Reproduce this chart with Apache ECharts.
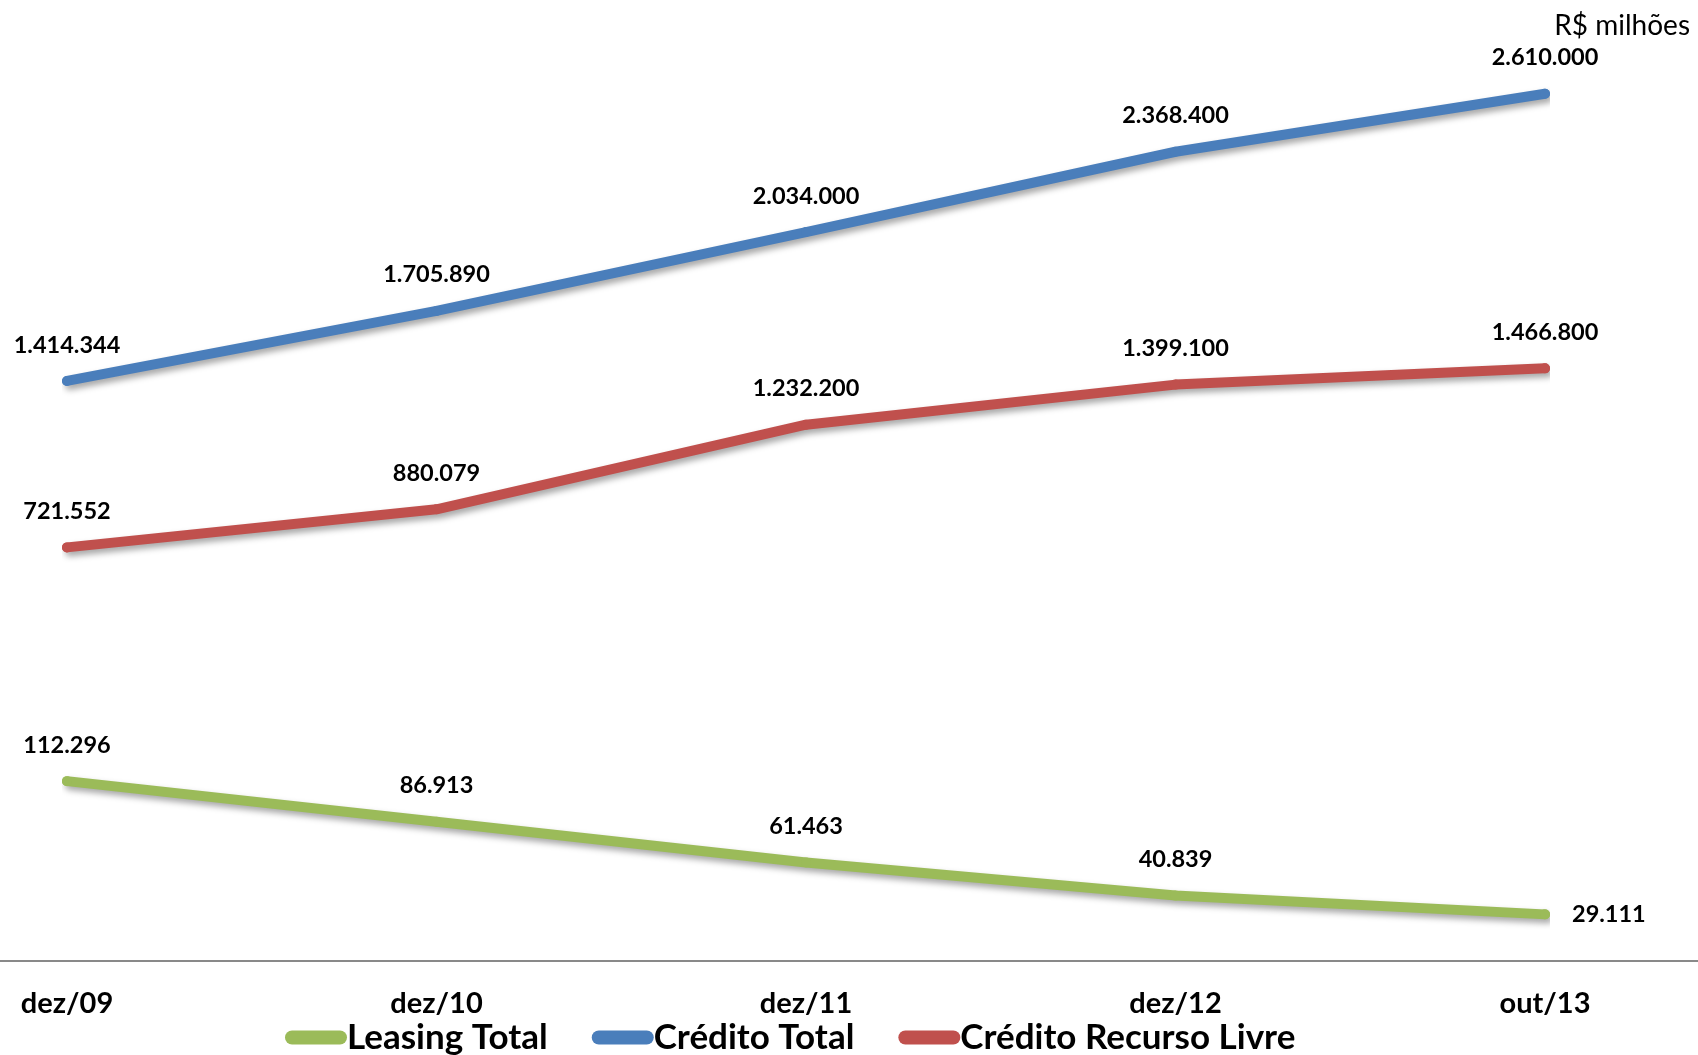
<!DOCTYPE html>
<html>
<head>
<meta charset="utf-8">
<script src="https://cdn.jsdelivr.net/npm/echarts@6/dist/echarts.min.js"></script>
<style>
html,body{margin:0;padding:0;background:#fff;}
#chart{width:1698px;height:1055px;}
</style>
</head>
<body>
<div id="chart"></div>
<script>
const categories = ['dez/09', 'dez/10', 'dez/11', 'dez/12', 'out/13'];
const leasingTotal = [112296, 86913, 61463, 40839, 29111];
const creditoTotal = [1414344, 1705890, 2034000, 2368400, 2610000];
const creditoRecursoLivre = [721552, 880079, 1232200, 1399100, 1466800];
const seriesNames = ['Leasing Total', 'Crédito Total', 'Crédito Recurso Livre'];
const unitLabel = 'R$ milhões';

const FONT = 'Lato, "Open Sans", sans-serif';
function fmt(v) {
  return String(Math.round(v)).replace(/\B(?=(\d{3})+(?!\d))/g, '.');
}
const pill = 'path://M7,0 H55 A7,7 0 0 1 55,14 H7 A7,7 0 0 1 7,0 Z';

function lineSeries(name, data, color, yIndex, lastRight) {
  return {
    name: name,
    type: 'line',
    yAxisIndex: yIndex,
    data: data.map((v, i) => {
      if (lastRight && i === data.length - 1) {
        return { value: v, label: { position: 'right', distance: 22 } };
      }
      return v;
    }),
    symbol: 'circle',
    symbolSize: 10,
    showSymbol: true,
    itemStyle: { color: color },
    lineStyle: {
      color: color, width: 10, cap: 'round', join: 'round',
      shadowColor: 'rgba(0,0,0,0.35)', shadowBlur: 6, shadowOffsetX: 3, shadowOffsetY: 4
    },
    label: {
      show: true, position: 'top', distance: 19,
      color: '#000', fontFamily: FONT, fontWeight: 'bold', fontSize: 23.5,
      formatter: p => fmt(p.value)
    },
    emphasis: { disabled: true },
    animation: false
  };
}

const chart = echarts.init(document.getElementById('chart'), null, { renderer: 'canvas' });
chart.setOption({
  backgroundColor: '#fff',
  animation: false,
  title: {
    text: unitLabel, right: 3, top: 7,
    textStyle: { fontFamily: FONT, fontWeight: 'normal', fontSize: 28, color: '#000' }
  },
  legend: {
    data: seriesNames.map(n => ({ name: n, icon: pill })),
    left: 280, top: 1015,
    itemWidth: 62, itemHeight: 14, itemGap: 44,
    textStyle: { fontFamily: FONT, fontWeight: 'bold', fontSize: 35, color: '#000', padding: [0, 0, 0, -5] }
  },
  grid: { left: 67, right: 153, top: 0, bottom: 94, containLabel: false },
  xAxis: {
    type: 'category', data: categories, boundaryGap: false,
    axisLine: { show: false }, axisTick: { show: false },
    axisLabel: { fontFamily: FONT, fontWeight: 'bold', fontSize: 29, color: '#000', margin: 28 }
  },
  yAxis: [
    { type: 'value', min: -1000000, max: 3000000, show: false, splitLine: { show: false } },
    { type: 'value', min: 0, max: 600000, show: false, splitLine: { show: false } }
  ],
  graphic: [{
    type: 'line', shape: { x1: 0, y1: 961, x2: 1698, y2: 961 },
    style: { stroke: '#898989', lineWidth: 2 }, z: 1
  }],
  series: [
    lineSeries(seriesNames[0], leasingTotal, '#9BBB59', 1, true),
    lineSeries(seriesNames[1], creditoTotal, '#4A7EBB', 0, false),
    lineSeries(seriesNames[2], creditoRecursoLivre, '#C0504D', 0, false)
  ]
});
</script>
</body>
</html>
